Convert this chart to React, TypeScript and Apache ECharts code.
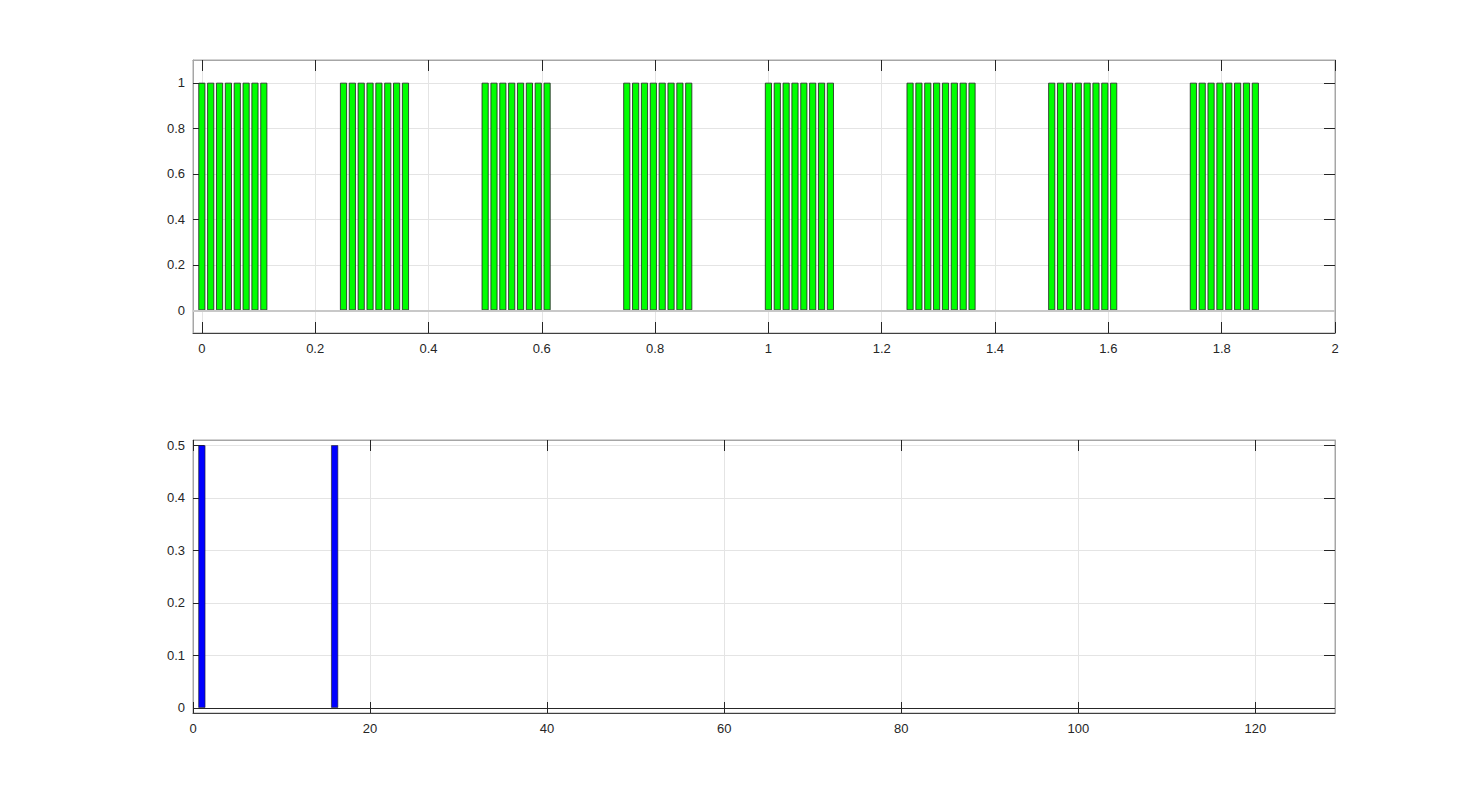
import React, { useEffect, useRef } from "react";
import * as echarts from "echarts";

// ---- data ----
const sampleRate = 64; // samples per second (time axis = index / sampleRate)
const signal = [
  1, 1, 1, 1, 1, 1, 1, 1, 0, 0, 0, 0, 0, 0, 0, 0,
  1, 1, 1, 1, 1, 1, 1, 1, 0, 0, 0, 0, 0, 0, 0, 0,
  1, 1, 1, 1, 1, 1, 1, 1, 0, 0, 0, 0, 0, 0, 0, 0,
  1, 1, 1, 1, 1, 1, 1, 1, 0, 0, 0, 0, 0, 0, 0, 0,
  1, 1, 1, 1, 1, 1, 1, 1, 0, 0, 0, 0, 0, 0, 0, 0,
  1, 1, 1, 1, 1, 1, 1, 1, 0, 0, 0, 0, 0, 0, 0, 0,
  1, 1, 1, 1, 1, 1, 1, 1, 0, 0, 0, 0, 0, 0, 0, 0,
  1, 1, 1, 1, 1, 1, 1, 1, 0, 0, 0, 0, 0, 0, 0, 0,
];
const timeTicks = [0, 0.2, 0.4, 0.6, 0.8, 1, 1.2, 1.4, 1.6, 1.8, 2];
const ampTicks = [0, 0.2, 0.4, 0.6, 0.8, 1];

const freqBins = [1, 16];
const magnitudes = [0.5, 0.5];
const freqTicks = [0, 20, 40, 60, 80, 100, 120];
const magTicks = [0, 0.1, 0.2, 0.3, 0.4, 0.5];

// ---- styles ----
const FONT = "'Liberation Sans', Arial, Helvetica, sans-serif";
const TEXT = "#262626";
const TICK = "#262626";
const BORDER = "#a6a6a6";
const GRIDLINE = "#e4e4e4";

function xPair(gridIndex: number, min: number, max: number, ticks: number[], step: number) {
  return [
    {
      type: "value",
      gridIndex,
      position: "bottom",
      min,
      max,
      minInterval: step,
      maxInterval: step,
      splitNumber: Math.round((max - min) / step),
      axisLine: { show: true, onZero: false, lineStyle: { color: "#404040", width: 1 } },
      axisTick: { show: true, inside: true, length: 11, customValues: ticks, lineStyle: { color: TICK } },
      axisLabel: {
        show: true,
        customValues: ticks,
        showMinLabel: ticks[0] >= min,
        margin: 9,
        color: TEXT,
        fontSize: 13,
        fontFamily: FONT,
      },
      splitLine: { show: true, lineStyle: { color: GRIDLINE, width: 1 } },
    },
    {
      type: "value",
      gridIndex,
      position: "top",
      min,
      max,
      minInterval: step,
      maxInterval: step,
      splitNumber: Math.round((max - min) / step),
      axisLine: { show: true, onZero: false, lineStyle: { color: BORDER } },
      axisTick: { show: true, inside: true, length: 11, customValues: ticks, lineStyle: { color: TICK } },
      axisLabel: { show: false },
      splitLine: { show: false },
    },
  ];
}

function yPair(gridIndex: number, min: number, max: number, ticks: number[], step: number) {
  return [
    {
      type: "value",
      gridIndex,
      position: "left",
      min,
      max,
      minInterval: step,
      maxInterval: step,
      splitNumber: Math.round((max - min) / step),
      axisLine: { show: true, onZero: false, lineStyle: { color: BORDER } },
      axisTick: { show: true, inside: true, length: 11, customValues: ticks, lineStyle: { color: TICK } },
      axisLabel: {
        show: true,
        customValues: ticks,
        margin: 8,
        color: TEXT,
        fontSize: 13,
        fontFamily: FONT,
      },
      splitLine: { show: true, lineStyle: { color: GRIDLINE, width: 1 } },
    },
    {
      type: "value",
      gridIndex,
      position: "right",
      min,
      max,
      minInterval: step,
      maxInterval: step,
      splitNumber: Math.round((max - min) / step),
      axisLine: { show: true, onZero: false, lineStyle: { color: BORDER } },
      axisTick: { show: true, inside: true, length: 11, customValues: ticks, lineStyle: { color: TICK } },
      axisLabel: { show: false },
      splitLine: { show: false },
    },
  ];
}

export default function App() {
  const ref = useRef<HTMLDivElement>(null);

  useEffect(() => {
    if (!ref.current) return;
    const chart = echarts.init(ref.current, undefined, { renderer: "svg" });

    const timeData = signal
      .map((v, i) => [i / sampleRate, v])
      .filter((d) => d[1] !== 0);
    const specData = freqBins.map((f, i) => [f, magnitudes[i]]);

    const option: any = {
      animation: false,
      backgroundColor: "#ffffff",
      grid: [
        { left: 193, top: 60, width: 1142, height: 273, show: true, borderColor: BORDER, borderWidth: 1, containLabel: false },
        { left: 193, top: 440, width: 1142, height: 273, show: true, borderColor: BORDER, borderWidth: 1, containLabel: false },
      ],
      xAxis: [
        ...xPair(0, -1 / sampleRate, 2, timeTicks, 0.2),
        ...xPair(1, 0, 129, freqTicks, 20),
      ],
      yAxis: [
        ...yPair(0, -0.1, 1.1, ampTicks, 0.2),
        ...yPair(1, -0.01, 0.51, magTicks, 0.1),
      ],
      series: [
        {
          type: "bar",
          xAxisIndex: 0,
          yAxisIndex: 0,
          data: timeData,
          barWidth: 7,
          itemStyle: { color: "#00ff00", borderColor: "#1f1f1f", borderWidth: 0.8 },
          markLine: {
            silent: true,
            symbol: "none",
            label: { show: false },
            lineStyle: { color: "#c8c8c8", width: 2, type: "solid" },
            data: [{ yAxis: 0 }],
          },
        },
        {
          type: "bar",
          xAxisIndex: 2,
          yAxisIndex: 2,
          data: specData,
          barWidth: 7,
          itemStyle: { color: "#0000ff", borderColor: "#1f1f1f", borderWidth: 0.6 },
          markLine: {
            silent: true,
            symbol: "none",
            label: { show: false },
            lineStyle: { color: "#262626", width: 1.2, type: "solid" },
            data: [{ yAxis: 0 }],
          },
        },
      ],
    };

    chart.setOption(option);
    return () => chart.dispose();
  }, []);

  return (
    <div
      ref={ref}
      style={{ position: "absolute", left: 0, top: 0, width: 1477, height: 802, background: "#ffffff" }}
    />
  );
}
